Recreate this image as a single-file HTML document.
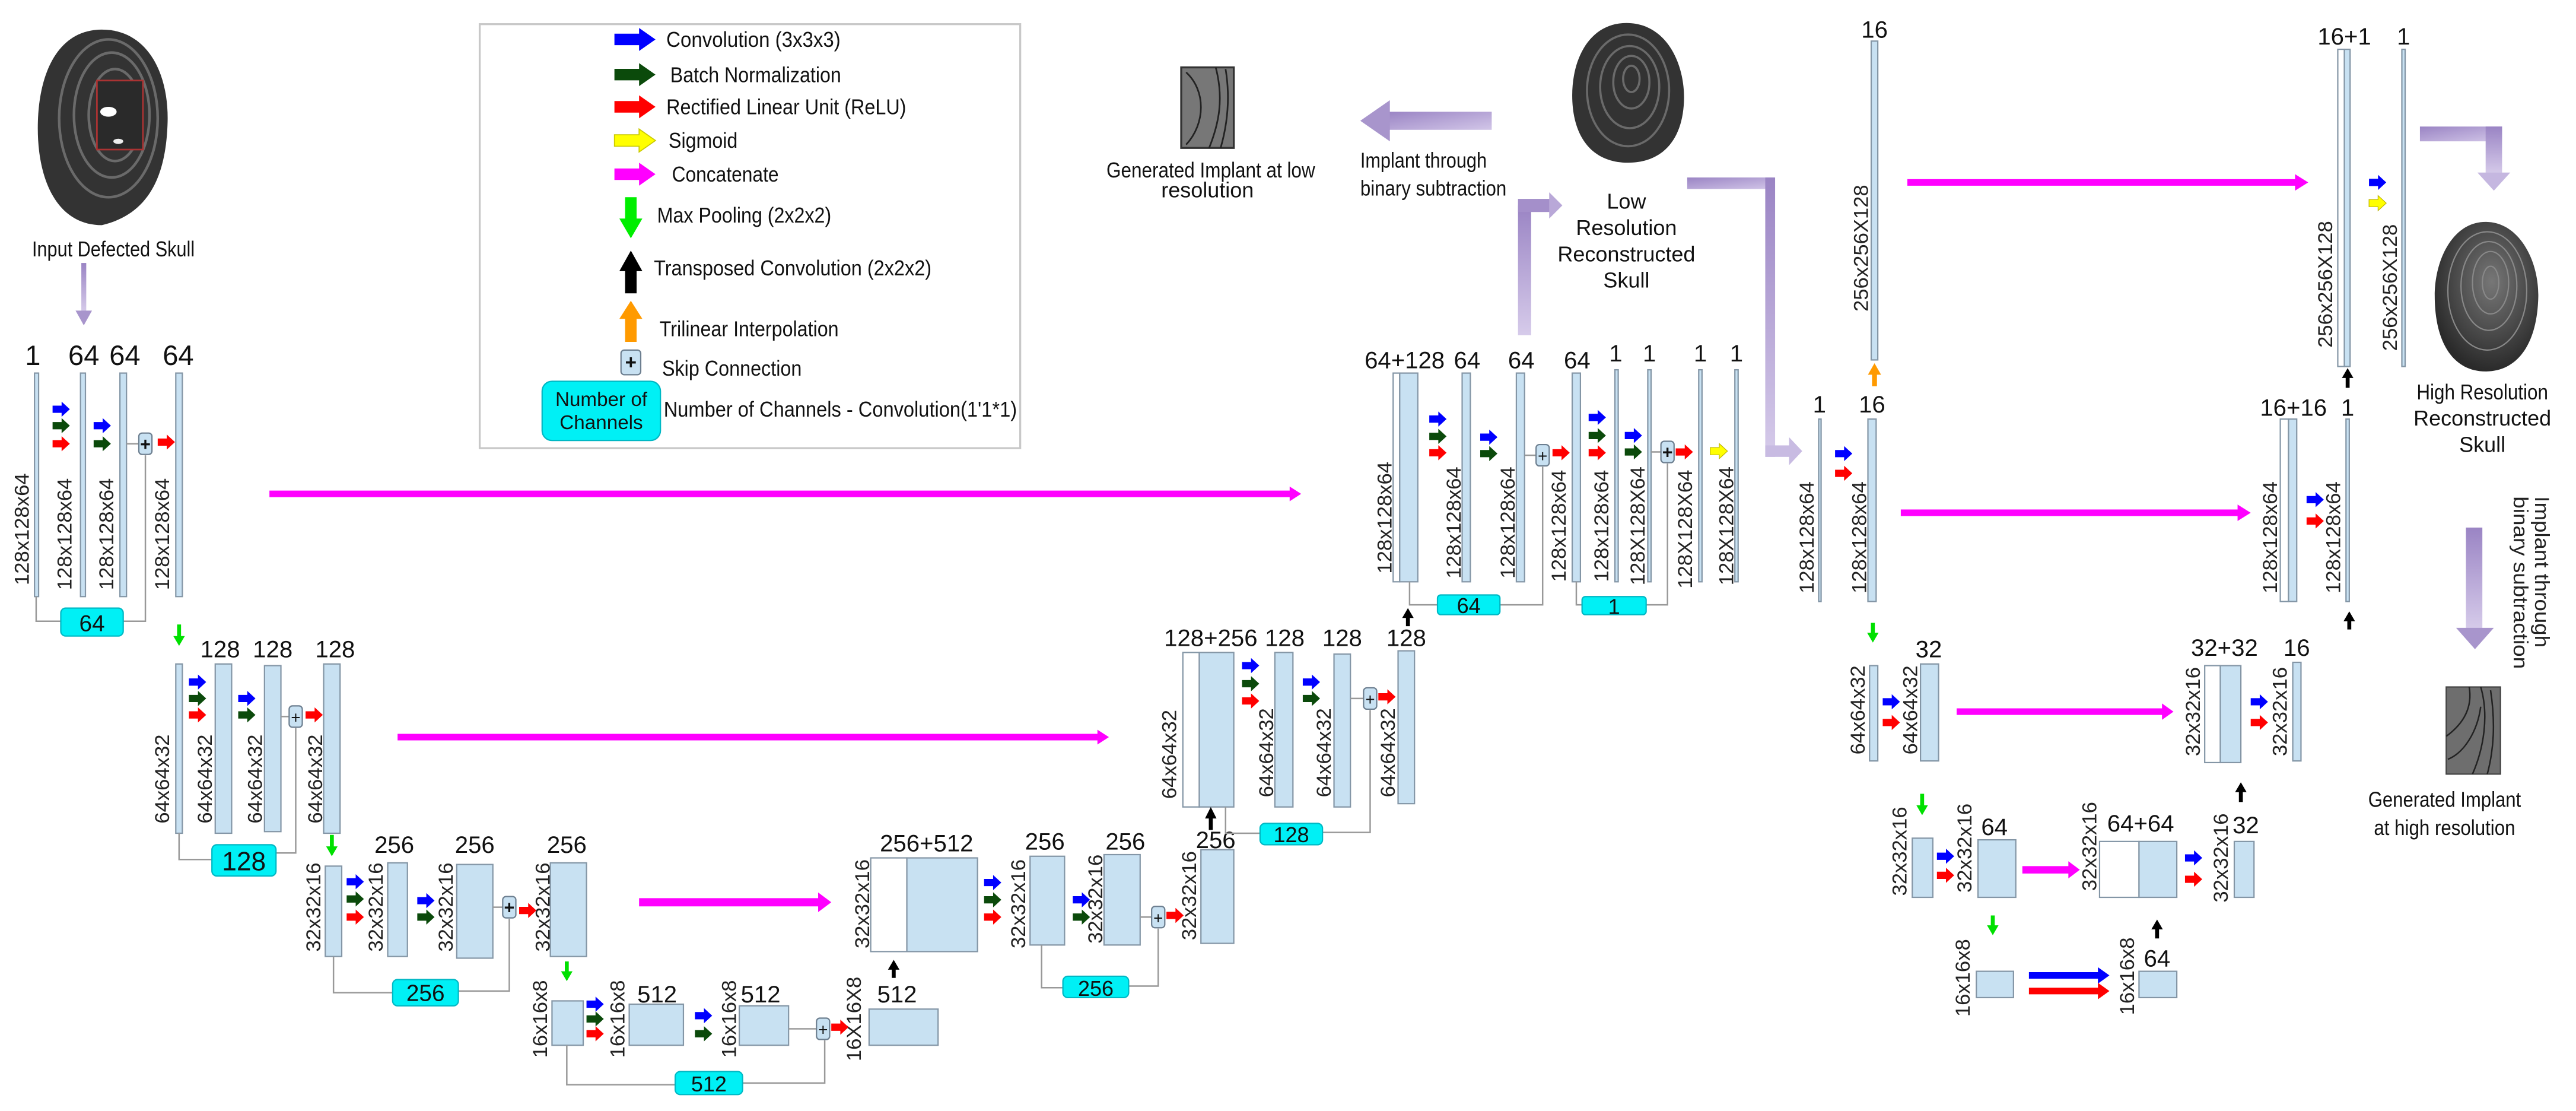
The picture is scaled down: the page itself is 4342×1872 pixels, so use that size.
<!DOCTYPE html>
<html><head><meta charset="utf-8"><style>
html,body{margin:0;padding:0;background:#fff;}
svg{display:block;}
text{font-family:"Liberation Sans",sans-serif;fill:#111;}
.r{font-family:"Liberation Sans",sans-serif;font-size:12.5px;fill:#222;}
.n{font-size:14.5px;text-anchor:middle;}
.lg{font-size:13px;}
.bar{fill:#c8e1f2;stroke:#8496a6;stroke-width:0.8;}
.wb{fill:#fff;stroke:#8496a6;stroke-width:0.8;}
.cy{fill:#00f0f5;stroke:#00b8c4;stroke-width:0.8;}
.cn{fill:none;stroke:#999;stroke-width:0.9;}
.pl{fill:#c8e1f2;stroke:#6d7f90;stroke-width:0.8;}
</style></head><body>
<svg width="4342" height="1872" viewBox="0 0 1568 676" preserveAspectRatio="none" xmlns="http://www.w3.org/2000/svg">
<defs>
<path id="sa" d="M0,-2.2 H5.5 V-4.6 L10.5,0 L5.5,4.6 V2.2 H0Z"/>
<linearGradient id="pg" x1="0" y1="0" x2="1" y2="1"><stop offset="0" stop-color="#9a84c4"/><stop offset="1" stop-color="#d2c6e8"/></linearGradient>
<linearGradient id="pv" x1="0" y1="0" x2="0" y2="1"><stop offset="0" stop-color="#9a84c4"/><stop offset="1" stop-color="#d6cbea"/></linearGradient>
<radialGradient id="sk" cx="0.55" cy="0.4" r="0.6"><stop offset="0" stop-color="#777"/><stop offset="1" stop-color="#2a2a2a"/></radialGradient>
</defs>

<!-- Input skull -->
<path d="M62,18 C90,18 103,45 102,75 C101,105 92,130 62,137 C35,137 23,110 23,78 C23,45 35,18 62,18Z" fill="#333"/>
<g fill="none" stroke="#6a6a6a" stroke-width="1.6">
<ellipse cx="66" cy="72" rx="30" ry="48"/><ellipse cx="68" cy="70" rx="23" ry="38"/><ellipse cx="70" cy="70" rx="16" ry="28"/><ellipse cx="71" cy="70" rx="9" ry="18"/>
</g>
<rect x="59" y="49" width="28" height="42" fill="#2a2a2a" stroke="#a33" stroke-width="1"/>
<ellipse cx="66" cy="68" rx="5" ry="3" fill="#fff"/><ellipse cx="72" cy="86" rx="3" ry="1.6" fill="#eee"/>
<text x="69" y="156" class="lg" text-anchor="middle" textLength="99" lengthAdjust="spacingAndGlyphs">Input Defected Skull</text>
<rect x="49.5" y="160" width="3" height="30" fill="url(#pv)"/><polygon points="46,189 56,189 51,198" fill="#a895cc"/>

<!-- Legend -->
<rect x="292" y="14.7" width="329" height="258" fill="#fff" stroke="#c8c8c8" stroke-width="1.2"/>
<path d="M374,20.5 H389 V17 L399,24 L389,31 V27.5 H374Z" fill="#0000ff"/>
<path d="M374,41.9 H389 V38.4 L399,45.4 L389,52.4 V48.9 H374Z" fill="#0b4a0b"/>
<path d="M374,61.5 H389 V58 L399,65 L389,72 V68.5 H374Z" fill="#ff0000"/>
<path d="M374,82 H389 V78.5 L399,85.5 L389,92.5 V89 H374Z" fill="#ffff00" stroke="#c9c900" stroke-width="0.6"/>
<path d="M374,102.5 H389 V99 L399,106 L389,113 V109.5 H374Z" fill="#ff00ff"/>
<path d="M380.5,120 H387.5 V133 H391 L384,145 L377,133 H380.5Z" fill="#00ee00"/>
<path d="M380.5,178.5 H387.5 V165 H391 L384,152.5 L377,165 H380.5Z" fill="#000"/>
<path d="M380.5,208 H387.5 V194 H391 L384,183 L377,194 H380.5Z" fill="#ff9a00"/>
<rect x="378" y="213" width="12" height="15" rx="2" class="pl"/><text x="384" y="224.5" font-size="12" text-anchor="middle" font-weight="bold">+</text>
<rect x="330" y="232" width="72" height="36" rx="6" class="cy"/>
<text x="366" y="247" font-size="12" text-anchor="middle">Number of</text>
<text x="366" y="261" font-size="12" text-anchor="middle">Channels</text>
<text x="405.6" y="28.5" class="lg" textLength="106" lengthAdjust="spacingAndGlyphs">Convolution (3x3x3)</text>
<text x="408" y="50" class="lg" textLength="104" lengthAdjust="spacingAndGlyphs">Batch Normalization</text>
<text x="405.6" y="69.5" class="lg" textLength="146" lengthAdjust="spacingAndGlyphs">Rectified Linear Unit (ReLU)</text>
<text x="407" y="90" class="lg" textLength="42" lengthAdjust="spacingAndGlyphs">Sigmoid</text>
<text x="409" y="110.5" class="lg" textLength="65" lengthAdjust="spacingAndGlyphs">Concatenate</text>
<text x="400" y="135.5" class="lg" textLength="106" lengthAdjust="spacingAndGlyphs">Max Pooling (2x2x2)</text>
<text x="398" y="167.5" class="lg" textLength="169" lengthAdjust="spacingAndGlyphs">Transposed Convolution (2x2x2)</text>
<text x="401.5" y="204.5" class="lg" textLength="109" lengthAdjust="spacingAndGlyphs">Trilinear Interpolation</text>
<text x="403" y="228.5" class="lg" textLength="85" lengthAdjust="spacingAndGlyphs">Skip Connection</text>
<text x="404" y="253.5" class="lg" textLength="215" lengthAdjust="spacingAndGlyphs">Number of Channels - Convolution(1'1*1)</text>

<!-- Low-res implant + skull -->
<rect x="719" y="41" width="32" height="49" fill="#777" stroke="#333" stroke-width="1.2"/>
<g fill="none" stroke="#222" stroke-width="1"><path d="M722,44 C734,55 734,75 722,88"/><path d="M740,41 C745,60 742,75 736,90"/><path d="M746,42 C749,60 747,76 743,90"/></g>
<text x="737" y="108" class="lg" text-anchor="middle" textLength="127" lengthAdjust="spacingAndGlyphs">Generated Implant at low</text>
<text x="735" y="120" class="lg" text-anchor="middle">resolution</text>
<rect x="845" y="68" width="63" height="11" fill="url(#pg)"/><polygon points="846,61 828,73.5 846,86" fill="#a895cc"/>
<text x="828" y="102" class="lg" textLength="77" lengthAdjust="spacingAndGlyphs">Implant through</text>
<text x="828" y="119" class="lg" textLength="89" lengthAdjust="spacingAndGlyphs">binary subtraction</text>
<path d="M990,14 C1015,14 1026,40 1025,62 C1024,85 1012,99 991,99 C968,99 957,82 957,58 C957,35 968,14 990,14Z" fill="#333"/>
<g fill="none" stroke="#6a6a6a" stroke-width="1.3"><ellipse cx="991" cy="55" rx="25" ry="34"/><ellipse cx="992" cy="53" rx="18" ry="25"/><ellipse cx="993" cy="50" rx="11" ry="16"/><ellipse cx="993" cy="48" rx="5" ry="8"/></g>
<text x="990" y="127" class="lg" text-anchor="middle">Low</text>
<text x="990" y="143" class="lg" text-anchor="middle">Resolution</text>
<text x="990" y="159" class="lg" text-anchor="middle">Reconstructed</text>
<text x="990" y="175" class="lg" text-anchor="middle">Skull</text>
<rect x="924" y="125" width="8" height="79" fill="url(#pv)"/><rect x="924" y="121" width="20" height="8" fill="#a48fca"/><polygon points="943,117 951,125 943,133" fill="#b9a8d8"/>
<rect x="1027" y="108" width="53" height="7" fill="url(#pg)"/><rect x="1074.5" y="108" width="6" height="170" fill="url(#pv)"/><rect x="1074.5" y="271" width="15" height="7" fill="#c8bbe2"/><polygon points="1089,266 1097,274.5 1089,283" fill="#c8bbe2"/>

<!-- Magenta concatenation arrows -->
<g fill="#ff00ff">
<rect x="164" y="298.5" width="622" height="4"/><polygon points="785,296 792,300.5 785,305"/>
<rect x="242" y="446.5" width="427" height="4"/><polygon points="668,444 675,448.5 668,453"/>
<rect x="389" y="546.5" width="110" height="5"/><polygon points="498,543 506,549 498,555"/>
<rect x="1161" y="109" width="237" height="4"/><polygon points="1397,106 1405,111 1397,116"/>
<rect x="1157" y="310" width="206" height="4"/><polygon points="1362,307 1370,312 1362,317"/>
<rect x="1191" y="431" width="126" height="4"/><polygon points="1316,428 1323,433 1316,438"/>
<rect x="1231" y="527" width="29" height="4.5"/><polygon points="1259,524 1266,529.2 1259,534.5"/>
</g>
<rect x="1235" y="591.5" width="43" height="4" fill="#0000ff"/><polygon points="1277,588.5 1284,593.5 1277,598.5" fill="#0000ff"/>
<rect x="1235" y="601" width="43" height="4" fill="#ff0000"/><polygon points="1277,598 1284,603 1277,608" fill="#ff0000"/>

<!-- Encoder level 1 -->
<text x="20" y="222" font-size="17" text-anchor="middle">1</text>
<text x="51" y="222" font-size="17" text-anchor="middle">64</text>
<text x="76" y="222" font-size="17" text-anchor="middle">64</text>
<text x="108.5" y="222" font-size="17" text-anchor="middle">64</text>
<rect x="21" y="227" width="2.5" height="136" class="bar"/>
<rect x="49" y="227" width="3" height="136" class="bar"/>
<rect x="73" y="227" width="4" height="136" class="bar"/>
<rect x="107" y="227" width="4" height="136" class="bar"/>
<text class="r" text-anchor="middle" transform="translate(17.5,322) rotate(-90)">128x128x64</text>
<text class="r" text-anchor="middle" transform="translate(43.5,325) rotate(-90)">128x128x64</text>
<text class="r" text-anchor="middle" transform="translate(69,325) rotate(-90)">128x128x64</text>
<text class="r" text-anchor="middle" transform="translate(103,325) rotate(-90)">128x128x64</text>
<path class="cn" d="M22,363 V378 H37 M75,378 H88.5 V277 M77,270 H84.5"/>
<rect x="37" y="370" width="38" height="17" rx="3" class="cy"/><text x="56" y="384" font-size="14" text-anchor="middle">64</text>

<!-- Encoder level 2 -->
<text x="134" y="400" class="n">128</text><text x="166" y="400" class="n">128</text><text x="204" y="400" class="n">128</text>
<rect x="107" y="404" width="4" height="103" class="bar"/>
<rect x="131" y="404" width="10" height="103" class="bar"/>
<rect x="161" y="405" width="10" height="101" class="bar"/>
<rect x="197" y="404" width="10" height="103" class="bar"/>
<text class="r" text-anchor="middle" transform="translate(103,474) rotate(-90)">64x64x32</text>
<text class="r" text-anchor="middle" transform="translate(129,474) rotate(-90)">64x64x32</text>
<text class="r" text-anchor="middle" transform="translate(159.5,474) rotate(-90)">64x64x32</text>
<text class="r" text-anchor="middle" transform="translate(196,474) rotate(-90)">64x64x32</text>
<path class="cn" d="M109,507 V523 H129 M168,519 H180 V443 M171,436 H176"/>
<rect x="129" y="514" width="39" height="19" rx="3" class="cy"/><text x="148.5" y="529.5" font-size="16" text-anchor="middle">128</text>

<!-- Encoder level 3 -->
<text x="240" y="519" class="n">256</text><text x="289" y="519" class="n">256</text><text x="345" y="519" class="n">256</text>
<rect x="198" y="527" width="10" height="55" class="bar"/>
<rect x="236" y="525" width="12" height="57" class="bar"/>
<rect x="278" y="526" width="22" height="57" class="bar"/>
<rect x="335" y="525" width="22" height="57" class="bar"/>
<text class="r" text-anchor="middle" transform="translate(195,552) rotate(-90)">32x32x16</text>
<text class="r" text-anchor="middle" transform="translate(233,552) rotate(-90)">32x32x16</text>
<text class="r" text-anchor="middle" transform="translate(275.5,552) rotate(-90)">32x32x16</text>
<text class="r" text-anchor="middle" transform="translate(334.5,552) rotate(-90)">32x32x16</text>
<path class="cn" d="M203,582 V604 H239 M279,603 H310 V559 M300,552 H306"/>
<rect x="239" y="596" width="40" height="16" rx="3" class="cy"/><text x="259" y="609" font-size="14" text-anchor="middle">256</text>

<!-- Encoder level 4 -->
<text x="400" y="610" class="n">512</text><text x="463" y="610" class="n">512</text>
<rect x="336" y="609" width="19" height="27" class="bar"/>
<rect x="383" y="611" width="33" height="25" class="bar"/>
<rect x="450" y="612" width="30" height="24" class="bar"/>
<text class="r" text-anchor="middle" transform="translate(333,620) rotate(-90)" font-size="12">16x16x8</text>
<text class="r" text-anchor="middle" transform="translate(380,620) rotate(-90)" font-size="12">16x16x8</text>
<text class="r" text-anchor="middle" transform="translate(448,620) rotate(-90)" font-size="12">16x16x8</text>
<text class="r" text-anchor="middle" transform="translate(524,620) rotate(-90)" font-size="12">16X16X8</text>
<path class="cn" d="M345,636 V660 H411 M452,659 H502 V633 M480,626 H497"/>
<rect x="411" y="652" width="41" height="14" rx="3" class="cy"/><text x="431.5" y="664" font-size="13" text-anchor="middle">512</text>

<!-- Decoder level 3 -->
<text x="546" y="610" class="n">512</text>
<rect x="529" y="614" width="42" height="22" class="bar"/>
<text x="564" y="518" class="n">256+512</text>
<rect x="530" y="522" width="22" height="57" class="wb"/><rect x="552" y="522" width="43" height="57" class="bar"/>
<text x="636" y="517" class="n">256</text><text x="685" y="517" class="n">256</text><text x="740" y="516" class="n">256</text>
<rect x="627" y="521" width="21" height="54" class="bar"/>
<rect x="672" y="520" width="22" height="55" class="bar"/>
<rect x="731" y="517" width="20" height="57" class="bar"/>
<text class="r" text-anchor="middle" transform="translate(529,550) rotate(-90)">32x32x16</text>
<text class="r" text-anchor="middle" transform="translate(624,550) rotate(-90)">32x32x16</text>
<text class="r" text-anchor="middle" transform="translate(671,547) rotate(-90)">32x32x16</text>
<text class="r" text-anchor="middle" transform="translate(728,545) rotate(-90)">32x32x16</text>
<path class="cn" d="M634,575 V601 H647 M687,600 H705 V565 M694,558 H701"/>
<rect x="647" y="594" width="40" height="13" rx="3" class="cy"/><text x="667" y="606" font-size="13" text-anchor="middle">256</text>

<!-- Decoder level 2 -->
<text x="737" y="393" class="n">128+256</text><text x="782" y="393" class="n">128</text><text x="817" y="393" class="n">128</text><text x="856" y="393" class="n">128</text>
<rect x="720" y="397" width="10" height="94" class="wb"/><rect x="730" y="397" width="21" height="94" class="bar"/>
<rect x="776" y="397" width="11" height="94" class="bar"/>
<rect x="812" y="398" width="10" height="93" class="bar"/>
<rect x="851" y="396" width="10" height="93" class="bar"/>
<text class="r" text-anchor="middle" transform="translate(716,459) rotate(-90)">64x64x32</text>
<text class="r" text-anchor="middle" transform="translate(775,458) rotate(-90)">64x64x32</text>
<text class="r" text-anchor="middle" transform="translate(810,458) rotate(-90)">64x64x32</text>
<text class="r" text-anchor="middle" transform="translate(849,458) rotate(-90)">64x64x32</text>
<path class="cn" d="M746,491 V507 H767 M805,506.5 H834 V432 M822,425 H830"/>
<rect x="767" y="501" width="38" height="13" rx="3" class="cy"/><text x="786" y="512.5" font-size="13" text-anchor="middle">128</text>

<!-- Decoder level 1 -->
<text x="855" y="224" class="n">64+128</text><text x="893" y="224" class="n">64</text><text x="926" y="224" class="n">64</text><text x="960" y="224" class="n">64</text>
<text x="983.5" y="220" class="n">1</text><text x="1004" y="220" class="n">1</text><text x="1035" y="220" class="n">1</text><text x="1057" y="220" class="n">1</text>
<rect x="848" y="227" width="4" height="127" class="wb"/><rect x="852" y="227" width="11" height="127" class="bar"/>
<rect x="890" y="227" width="5" height="127" class="bar"/>
<rect x="923" y="227" width="5" height="127" class="bar"/>
<rect x="957" y="227" width="5" height="127" class="bar"/>
<rect x="983" y="225" width="2" height="129" class="bar"/>
<rect x="1003" y="225" width="2" height="129" class="bar"/>
<rect x="1034" y="225" width="2" height="129" class="bar"/>
<rect x="1056" y="225" width="2" height="129" class="bar"/>
<text class="r" text-anchor="middle" transform="translate(847,315) rotate(-90)">128x128x64</text>
<text class="r" text-anchor="middle" transform="translate(889,318) rotate(-90)">128x128x64</text>
<text class="r" text-anchor="middle" transform="translate(922,318) rotate(-90)">128x128x64</text>
<text class="r" text-anchor="middle" transform="translate(953,320) rotate(-90)">128x128x64</text>
<text class="r" text-anchor="middle" transform="translate(979,320) rotate(-90)">128x128x64</text>
<text class="r" text-anchor="middle" transform="translate(1001,320) rotate(-90)">128X128X64</text>
<text class="r" text-anchor="middle" transform="translate(1030,322) rotate(-90)">128X128X64</text>
<text class="r" text-anchor="middle" transform="translate(1055,320) rotate(-90)">128X128X64</text>
<path class="cn" d="M858,354 V368 H875 M913,368 H939 V284 M928,277 H935 M959.5,354 V368 H963 M1002,368 H1015 V282 M1005,275 H1011"/>
<rect x="875" y="362" width="38" height="12" rx="2" class="cy"/><text x="894" y="373" font-size="13" text-anchor="middle">64</text>
<rect x="963" y="363" width="39" height="11" rx="2" class="cy"/><text x="982.5" y="373.5" font-size="13" text-anchor="middle">1</text>

<!-- Right branch -->
<text x="1141" y="23" class="n" font-size="12">16</text>
<rect x="1139" y="25" width="4" height="194" class="bar"/>
<text class="r" text-anchor="middle" transform="translate(1137,151) rotate(-90)">256x256X128</text>
<path d="M1139.5,235 H1142.5 V228 H1145 L1141,221 L1137,228 H1139.5Z" fill="#ff9a00"/>
<text x="1107.5" y="251" class="n" font-size="12">1</text><text x="1139.5" y="251" class="n" font-size="12">16</text>
<rect x="1107" y="255" width="1.5" height="111" class="bar"/>
<rect x="1137" y="255" width="5" height="111" class="bar"/>
<text class="r" text-anchor="middle" transform="translate(1104,327) rotate(-90)">128x128x64</text>
<text class="r" text-anchor="middle" transform="translate(1136,327) rotate(-90)">128x128x64</text>

<text x="1427" y="27" class="n" font-size="12">16+1</text><text x="1463" y="27" class="n" font-size="12">1</text>
<rect x="1423" y="30" width="4" height="193" class="wb"/><rect x="1427" y="30" width="3.5" height="193" class="bar"/>
<rect x="1462" y="30" width="2" height="193" class="bar"/>
<text class="r" text-anchor="middle" transform="translate(1419.5,173) rotate(-90)">256x256X128</text>
<text class="r" text-anchor="middle" transform="translate(1459,175) rotate(-90)">256x256X128</text>

<text x="1396" y="253" class="n" font-size="12">16+16</text><text x="1429" y="253" class="n" font-size="12">1</text>
<rect x="1388" y="255" width="5" height="111" class="wb"/><rect x="1393" y="255" width="5" height="111" class="bar"/>
<rect x="1428" y="255" width="2" height="111" class="bar"/>
<text class="r" text-anchor="middle" transform="translate(1386,327) rotate(-90)">128x128x64</text>
<text class="r" text-anchor="middle" transform="translate(1424.5,327) rotate(-90)">128x128x64</text>

<text x="1174" y="400" class="n" font-size="13">32</text>
<rect x="1138" y="405" width="5" height="58" class="bar"/>
<rect x="1169" y="404" width="11" height="59" class="bar"/>
<text class="r" text-anchor="middle" transform="translate(1135,432) rotate(-90)">64x64x32</text>
<text class="r" text-anchor="middle" transform="translate(1167,432) rotate(-90)">64x64x32</text>

<text x="1354" y="399" class="n" font-size="13">32+32</text><text x="1398" y="399" class="n" font-size="13">16</text>
<rect x="1342" y="405" width="9.5" height="59" class="wb"/><rect x="1351.5" y="405" width="12.5" height="59" class="bar"/>
<rect x="1395.6" y="403" width="5" height="60" class="bar"/>
<text class="r" text-anchor="middle" transform="translate(1339,433) rotate(-90)">32x32x16</text>
<text class="r" text-anchor="middle" transform="translate(1392,433) rotate(-90)">32x32x16</text>

<text x="1214" y="508" class="n" font-size="13">64</text><text x="1303" y="506" class="n" font-size="13">64+64</text><text x="1367" y="507" class="n" font-size="13">32</text>
<rect x="1164" y="510" width="12.5" height="36" class="bar"/>
<rect x="1204" y="511" width="23" height="35" class="bar"/>
<rect x="1278" y="512" width="24" height="34" class="wb"/><rect x="1302" y="512" width="23" height="34" class="bar"/>
<rect x="1360" y="512" width="12" height="34" class="bar"/>
<text class="r" text-anchor="middle" transform="translate(1160.5,518) rotate(-90)">32x32x16</text>
<text class="r" text-anchor="middle" transform="translate(1200,516) rotate(-90)">32x32x16</text>
<text class="r" text-anchor="middle" transform="translate(1276,515) rotate(-90)">32x32x16</text>
<text class="r" text-anchor="middle" transform="translate(1356,522) rotate(-90)">32x32x16</text>

<text x="1313" y="588" class="n" font-size="13">64</text>
<rect x="1203" y="591" width="22.6" height="16" class="bar"/>
<rect x="1302" y="591" width="23" height="16" class="bar"/>
<text class="r" text-anchor="middle" transform="translate(1199,595) rotate(-90)">16x16x8</text>
<text class="r" text-anchor="middle" transform="translate(1299,594) rotate(-90)">16x16x8</text>

<!-- top-right purple, skull, implant -->
<rect x="1473" y="77" width="50" height="9" fill="url(#pg)"/><rect x="1513" y="77" width="10" height="29" fill="url(#pv)"/><polygon points="1508,105 1528,105 1518,116" fill="#c5b7e0"/>
<path d="M1513,135 C1534,135 1546,160 1545,182 C1544,210 1532,226 1513,226 C1493,226 1482,208 1482,180 C1482,158 1493,135 1513,135Z" fill="url(#sk)"/>
<g fill="none" stroke="#888" stroke-width="0.8"><ellipse cx="1514" cy="177" rx="24" ry="36"/><ellipse cx="1515" cy="174" rx="17" ry="27"/><ellipse cx="1516" cy="172" rx="11" ry="19"/><ellipse cx="1516" cy="172" rx="5" ry="10"/></g>
<text x="1511" y="243" class="lg" text-anchor="middle" textLength="80" lengthAdjust="spacingAndGlyphs">High Resolution</text>
<text x="1511" y="259" class="lg" text-anchor="middle">Reconstructed</text>
<text x="1511" y="275" class="lg" text-anchor="middle">Skull</text>
<text class="r" font-size="12.5" transform="translate(1543,302) rotate(90)" textLength="92" lengthAdjust="spacingAndGlyphs">Implant through</text>
<text class="r" font-size="12.5" transform="translate(1530,302) rotate(90)" textLength="105" lengthAdjust="spacingAndGlyphs">binary subtraction</text>
<rect x="1501" y="321" width="10" height="62" fill="url(#pv)"/><polygon points="1495,382 1518,382 1506.5,395" fill="#a895cc"/>
<rect x="1489" y="418" width="33" height="53" fill="#6e6e6e" stroke="#444" stroke-width="0.8"/>
<g fill="none" stroke="#222" stroke-width="0.9"><path d="M1489,448 C1500,440 1505,430 1503,418"/><path d="M1510,418 C1515,435 1512,455 1505,471"/><path d="M1516,420 C1519,440 1518,456 1514,471"/><path d="M1490,462 C1500,458 1508,445 1510,430"/></g>
<text x="1488" y="491" class="lg" text-anchor="middle" textLength="93" lengthAdjust="spacingAndGlyphs">Generated Implant</text>
<text x="1488" y="508" class="lg" text-anchor="middle" textLength="86" lengthAdjust="spacingAndGlyphs">at high resolution</text>

<!-- small op arrows -->
<g>
<use href="#sa" x="32" y="249" fill="#0000ff"/><use href="#sa" x="32" y="259" fill="#0b4a0b"/><use href="#sa" x="32" y="270" fill="#ff0000"/>
<use href="#sa" x="57" y="259" fill="#0000ff"/><use href="#sa" x="57" y="270" fill="#0b4a0b"/><use href="#sa" x="96" y="269" fill="#ff0000"/>
<use href="#sa" x="115" y="415" fill="#0000ff"/><use href="#sa" x="115" y="425" fill="#0b4a0b"/><use href="#sa" x="115" y="435" fill="#ff0000"/>
<use href="#sa" x="145" y="425" fill="#0000ff"/><use href="#sa" x="145" y="435" fill="#0b4a0b"/><use href="#sa" x="186" y="435" fill="#ff0000"/>
<use href="#sa" x="211" y="536.5" fill="#0000ff"/><use href="#sa" x="211" y="547" fill="#0b4a0b"/><use href="#sa" x="211" y="558" fill="#ff0000"/>
<use href="#sa" x="254" y="548" fill="#0000ff"/><use href="#sa" x="254" y="558" fill="#0b4a0b"/><use href="#sa" x="316" y="554" fill="#ff0000"/>
<use href="#sa" x="357" y="611" fill="#0000ff"/><use href="#sa" x="357" y="620" fill="#0b4a0b"/><use href="#sa" x="357" y="629" fill="#ff0000"/>
<use href="#sa" x="423" y="618" fill="#0000ff"/><use href="#sa" x="423" y="629" fill="#0b4a0b"/><use href="#sa" x="506" y="625" fill="#ff0000"/>
<use href="#sa" x="599" y="537" fill="#0000ff"/><use href="#sa" x="599" y="547.5" fill="#0b4a0b"/><use href="#sa" x="599" y="558" fill="#ff0000"/>
<use href="#sa" x="653" y="547.5" fill="#0000ff"/><use href="#sa" x="653" y="558" fill="#0b4a0b"/><use href="#sa" x="710" y="557" fill="#ff0000"/>
<use href="#sa" x="756" y="405" fill="#0000ff"/><use href="#sa" x="756" y="416" fill="#0b4a0b"/><use href="#sa" x="756" y="426.5" fill="#ff0000"/>
<use href="#sa" x="793" y="415" fill="#0000ff"/><use href="#sa" x="793" y="425" fill="#0b4a0b"/><use href="#sa" x="839" y="424" fill="#ff0000"/>
<use href="#sa" x="870" y="255" fill="#0000ff"/><use href="#sa" x="870" y="265.5" fill="#0b4a0b"/><use href="#sa" x="870" y="275.5" fill="#ff0000"/>
<use href="#sa" x="901" y="266" fill="#0000ff"/><use href="#sa" x="901" y="276" fill="#0b4a0b"/><use href="#sa" x="945" y="275.5" fill="#ff0000"/>
<use href="#sa" x="967" y="254" fill="#0000ff"/><use href="#sa" x="967" y="265" fill="#0b4a0b"/><use href="#sa" x="967" y="275.5" fill="#ff0000"/>
<use href="#sa" x="989" y="265" fill="#0000ff"/><use href="#sa" x="989" y="275" fill="#0b4a0b"/><use href="#sa" x="1020" y="275" fill="#ff0000"/>
<use href="#sa" x="1041" y="274.5" fill="#ffff00" stroke="#bbb000" stroke-width="0.4"/>
<use href="#sa" x="1117" y="276" fill="#0000ff"/><use href="#sa" x="1117" y="288" fill="#ff0000"/>
<use href="#sa" x="1442" y="111" fill="#0000ff"/><use href="#sa" x="1442" y="123.6" fill="#ffff00" stroke="#bbb000" stroke-width="0.4"/>
<use href="#sa" x="1404" y="304" fill="#0000ff"/><use href="#sa" x="1404" y="317" fill="#ff0000"/>
<use href="#sa" x="1146" y="427" fill="#0000ff"/><use href="#sa" x="1146" y="439.6" fill="#ff0000"/>
<use href="#sa" x="1370" y="427" fill="#0000ff"/><use href="#sa" x="1370" y="439.6" fill="#ff0000"/>
<use href="#sa" x="1179" y="521" fill="#0000ff"/><use href="#sa" x="1179" y="532.6" fill="#ff0000"/>
<use href="#sa" x="1330" y="522" fill="#0000ff"/><use href="#sa" x="1330" y="535" fill="#ff0000"/>
</g>

<!-- skip plus boxes -->
<g>
<rect x="84.5" y="263.5" width="8" height="13" rx="2" class="pl"/><text x="88.5" y="274" font-size="11" text-anchor="middle" font-weight="bold">+</text>
<rect x="176" y="429.5" width="8" height="13" rx="2" class="pl"/><text x="180" y="440" font-size="10" text-anchor="middle">+</text>
<rect x="306" y="545.5" width="8" height="13" rx="2" class="pl"/><text x="310" y="556" font-size="11" text-anchor="middle" font-weight="bold">+</text>
<rect x="497" y="619.5" width="8" height="13" rx="2" class="pl"/><text x="501" y="630" font-size="10" text-anchor="middle">+</text>
<rect x="701" y="551.5" width="8" height="13" rx="2" class="pl"/><text x="705" y="562" font-size="10" text-anchor="middle">+</text>
<rect x="830" y="418.5" width="8" height="13" rx="2" class="pl"/><text x="834" y="429" font-size="10" text-anchor="middle">+</text>
<rect x="935" y="270.5" width="8" height="13" rx="2" class="pl"/><text x="939" y="281" font-size="10" text-anchor="middle">+</text>
<rect x="1011" y="268.5" width="8" height="13" rx="2" class="pl"/><text x="1015" y="279" font-size="11" text-anchor="middle" font-weight="bold">+</text>
</g>

<!-- green pooling arrows -->
<g fill="#00e000">
<path d="M107.8,380 H110.2 V387 H112.5 L109,393 L105.5,387 H107.8Z"/>
<path d="M200.8,508 H203.2 V515 H205.5 L202,521 L198.5,515 H200.8Z"/>
<path d="M343.8,585 H346.2 V591 H348.5 L345,597 L341.5,591 H343.8Z"/>
<path d="M1138.8,379 H1141.2 V385 H1143.5 L1140,391 L1136.5,385 H1138.8Z"/>
<path d="M1168.8,483 H1171.2 V490 H1173.5 L1170,496 L1166.5,490 H1168.8Z"/>
<path d="M1211.8,557 H1214.2 V563 H1216.5 L1213,569 L1209.5,563 H1211.8Z"/>
</g>
<!-- black transposed conv arrows -->
<g fill="#000">
<path d="M542.8,595 H545.2 V590 H547.5 L544,584 L540.5,590 H542.8Z"/>
<path d="M735.8,505 H738.2 V498 H740.5 L737,491 L733.5,498 H735.8Z"/>
<path d="M855.8,381 H858.2 V376 H860.5 L857,370 L853.5,376 H855.8Z"/>
<path d="M1427.8,236 H1430.2 V230 H1432.5 L1429,224 L1425.5,230 H1427.8Z"/>
<path d="M1428.8,383 H1431.2 V378 H1433.5 L1430,372 L1426.5,378 H1428.8Z"/>
<path d="M1362.8,488 H1365.2 V482 H1367.5 L1364,476 L1360.5,482 H1362.8Z"/>
<path d="M1311.8,571 H1314.2 V565.5 H1316.5 L1313,559.5 L1309.5,565.5 H1311.8Z"/>
</g>
</svg>
</body></html>
